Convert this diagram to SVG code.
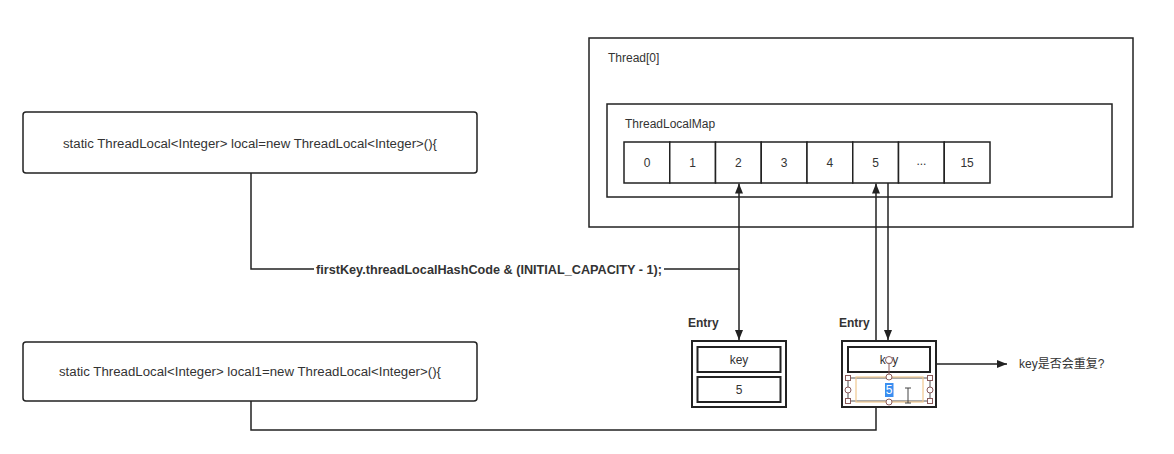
<svg xmlns="http://www.w3.org/2000/svg" width="1174" height="454" viewBox="0 0 1174 454">
  <style>
    text { font-family: "Liberation Sans", "Noto Sans CJK SC", sans-serif; fill: #333; }
    .box { fill: #fff; stroke: #222; stroke-width: 1.5; }
    .cell { fill: #fff; stroke: #222; stroke-width: 1.5; }
    .lbl { font-size: 12px; }
    .mid { text-anchor: middle; dominant-baseline: central; }
    .bold { font-weight: bold; }
    .edge { fill: none; stroke: #222; stroke-width: 1.5; }
    .handle { fill: #fff; stroke: #8a5a5a; stroke-width: 1; }
  </style>
  <defs>
    <marker id="arrow" viewBox="0 0 10 10" refX="10" refY="5" markerWidth="10" markerHeight="10" markerUnits="userSpaceOnUse" orient="auto">
      <path d="M0,1 L10,5 L0,9 Z" fill="#222"/>
    </marker>
  </defs>
  <rect width="1174" height="454" fill="#fff"/>

  <!-- thread container with its map -->
  <g id="thread">
    <rect class="box" x="589" y="38" width="544" height="189"/>
    <text class="lbl" x="608" y="62">Thread[0]</text>
  </g>
  <g id="threadLocalMap">
    <rect class="box" x="607" y="104" width="505" height="93"/>
    <text class="lbl" x="625" y="128">ThreadLocalMap</text>
  </g>
  <g id="table">
    <rect class="cell" x="624" y="142" width="45.75" height="41"/>
    <rect class="cell" x="669.75" y="142" width="45.75" height="41"/>
    <rect class="cell" x="715.5" y="142" width="45.75" height="41"/>
    <rect class="cell" x="761.25" y="142" width="45.75" height="41"/>
    <rect class="cell" x="807" y="142" width="45.75" height="41"/>
    <rect class="cell" x="852.75" y="142" width="45.75" height="41"/>
    <rect class="cell" x="898.5" y="142" width="45.75" height="41"/>
    <rect class="cell" x="944.25" y="142" width="45.75" height="41"/>
    <text class="lbl mid" x="647" y="163">0</text>
    <text class="lbl mid" x="692.6" y="163">1</text>
    <text class="lbl mid" x="738.4" y="163">2</text>
    <text class="lbl mid" x="784.1" y="163">3</text>
    <text class="lbl mid" x="829.9" y="163">4</text>
    <text class="lbl mid" x="875.6" y="163">5</text>
    <text class="lbl mid" x="921.4" y="161">...</text>
    <text class="lbl mid" x="967.1" y="163">15</text>
  </g>

  <!-- connectors -->
  <g id="connectors">
    <path class="edge" d="M251,173 V269 H739 V183.5" marker-end="url(#arrow)"/>
    <path class="edge" d="M739,269 V340" marker-end="url(#arrow)"/>
    <path class="edge" d="M251,401 V430 H876 V183.5" marker-end="url(#arrow)"/>
    <path class="edge" d="M888,183 V340" marker-end="url(#arrow)"/>
    <path class="edge" d="M930,364 H1007" marker-end="url(#arrow)"/>
    <rect x="314" y="261" width="350" height="17" fill="#fff"/>
    <text class="bold" x="316" y="274" font-size="13" textLength="346" lengthAdjust="spacingAndGlyphs">firstKey.threadLocalHashCode &amp; (INITIAL_CAPACITY - 1);</text>
  </g>

  <!-- thread-local declarations -->
  <g id="local">
    <rect class="box" x="23" y="112" width="454" height="61" rx="3"/>
    <text class="lbl" x="63" y="148" textLength="374" lengthAdjust="spacingAndGlyphs">static ThreadLocal&lt;Integer&gt; local=new ThreadLocal&lt;Integer&gt;(){</text>
  </g>
  <g id="local1">
    <rect class="box" x="23" y="342" width="454" height="59" rx="3"/>
    <text class="lbl" x="59" y="376" textLength="382" lengthAdjust="spacingAndGlyphs">static ThreadLocal&lt;Integer&gt; local1=new ThreadLocal&lt;Integer&gt;(){</text>
  </g>

  <!-- entry objects -->
  <g id="entry1">
    <text class="lbl bold" x="688" y="327">Entry</text>
    <rect x="692" y="341" width="94" height="66" fill="#fff" stroke="#222" stroke-width="2"/>
    <rect x="697.5" y="347" width="83" height="25" fill="#fff" stroke="#222" stroke-width="2"/>
    <rect x="697.5" y="377" width="83" height="25" fill="#fff" stroke="#222" stroke-width="2"/>
    <text class="lbl mid" x="739" y="359.5">key</text>
    <text class="lbl mid" x="739" y="389.5">5</text>
  </g>
  <g id="entry2">
    <text class="lbl bold" x="839" y="327">Entry</text>
    <rect x="842" y="341" width="94" height="66" fill="#fff" stroke="#222" stroke-width="2"/>
    <rect x="848" y="347" width="82" height="25" fill="#fff" stroke="#222" stroke-width="2"/>
    <text class="lbl mid" x="889" y="359.5">key</text>
    <!-- value cell being edited -->
    <rect x="848" y="378" width="82" height="23" fill="#fff" stroke="#555" stroke-width="1"/>
    <rect x="856" y="377" width="67" height="25" fill="none" stroke="#f0c890" stroke-width="1.2"/>
    <rect x="885" y="383" width="8.5" height="14" fill="#3a8ef0"/>
    <text class="lbl mid" x="889.2" y="390" style="fill:#fff">5</text>
    <path d="M905,388 H911 M908,388 V403 M905,403 H911" stroke="#444" stroke-width="1" fill="none"/>
    <line x1="889" y1="364" x2="889" y2="377" stroke="#8a5a5a" stroke-width="1"/>
    <circle class="handle" cx="889" cy="360" r="3.5"/>
    <circle class="handle" cx="889" cy="377" r="3"/>
    <circle class="handle" cx="889" cy="402" r="3"/>
    <circle class="handle" cx="848" cy="390" r="3"/>
    <circle class="handle" cx="930" cy="390" r="3"/>
    <rect class="handle" x="845.5" y="375.5" width="5" height="5"/>
    <rect class="handle" x="927.5" y="375.5" width="5" height="5"/>
    <rect class="handle" x="845.5" y="398.5" width="5" height="5"/>
    <rect class="handle" x="927.5" y="398.5" width="5" height="5"/>
  </g>
  <g id="question">
    <text class="lbl" x="1019" y="368">key是否会重复?</text>
  </g>
</svg>
